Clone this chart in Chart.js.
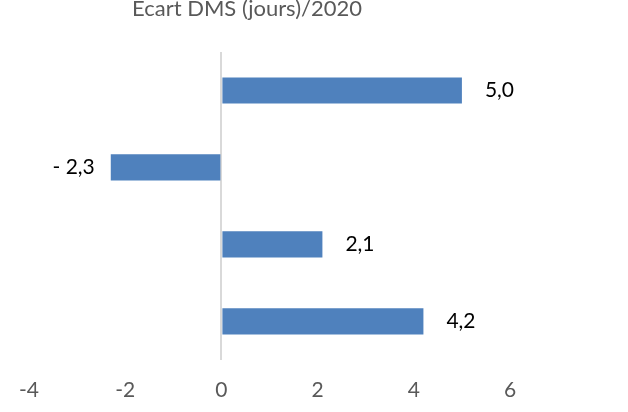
<!DOCTYPE html>
<html><head><meta charset="utf-8">
<script src="https://cdn.jsdelivr.net/npm/chart.js@4/dist/chart.umd.min.js"></script>
<style>html,body{margin:0;padding:0;background:#fff}#wrap{width:628px;height:412px}</style>
</head><body><div id="wrap"><canvas id="c" width="628" height="412"></canvas></div>
<script>
const title = "Ecart DMS (jours)/2020";
const categories = ["A", "B", "C", "D"];
const values = [5.0, -2.3, 2.1, 4.2];
const xTicks = [-4, -2, 0, 2, 4, 6];

const fmt = v => (v < 0 ? "- " : "") + Math.abs(v).toFixed(1).replace(".", ",");

const labelPlugin = {
  id: "labels",
  afterDatasetsDraw(chart) {
    const ctx = chart.ctx;
    const meta = chart.getDatasetMeta(0);
    ctx.save();
    ctx.font = "21px Lato";
    ctx.fillStyle = "#000000";
    ctx.textBaseline = "middle";
    meta.data.forEach((bar, i) => {
      const v = values[i];
      if (v >= 0) { ctx.textAlign = "left"; ctx.fillText(fmt(v), bar.x + 23, bar.y); }
      else { ctx.textAlign = "right"; ctx.fillText(fmt(v), bar.x - 16, bar.y); }
    });
    ctx.restore();
  }
};
const titlePlugin = {
  id: "ttl",
  afterDraw(chart) {
    const ctx = chart.ctx;
    ctx.save();
    ctx.font = "22px Lato";
    ctx.fillStyle = "#595959";
    ctx.textAlign = "center";
    ctx.textBaseline = "alphabetic";
    ctx.fillText(title, 247, 16);
    ctx.restore();
  }
};

new Chart(document.getElementById("c"), {
  type: "bar",
  data: { labels: categories, datasets: [{ data: values, backgroundColor: "#4f81bd", barPercentage: 0.68, categoryPercentage: 0.5 }] },
  options: {
    indexAxis: "y",
    responsive: false,
    animation: false,
    layout: { padding: { left: 29, right: 118, top: 52, bottom: -9 } },
    plugins: { legend: { display: false }, tooltip: { enabled: false }, title: { display: false } },
    scales: {
      y: { display: false },
      x: {
        min: -4, max: 6,
        afterBuildTicks: s => { s.ticks = xTicks.map(v => ({ value: v })); },
        border: { display: false },
        grid: { drawTicks: false, lineWidth: 2, color: c => (c.tick && c.tick.value === 0 ? "#d9d9d9" : "rgba(0,0,0,0)") },
        ticks: { color: "#595959", font: { family: "Lato", size: 21 }, padding: 18 }
      }
    }
  },
  plugins: [labelPlugin, titlePlugin]
});
</script></body></html>
